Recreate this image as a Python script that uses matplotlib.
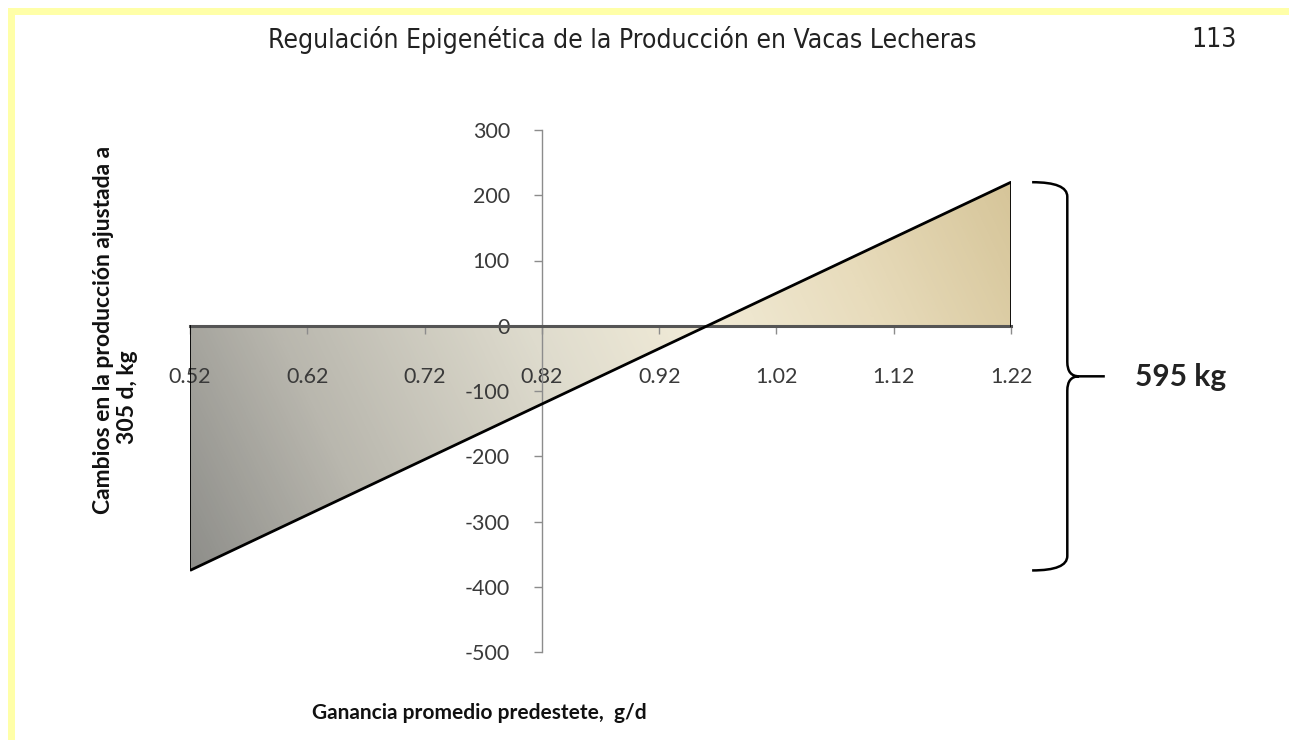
import numpy as np
import matplotlib
matplotlib.use('Agg')
import matplotlib.pyplot as plt
from matplotlib.patches import Polygon, Rectangle, PathPatch
from matplotlib.path import Path
from matplotlib.colors import LinearSegmentedColormap

plt.rcParams['axes.unicode_minus'] = False

# datos
x_ini, x_fin = 0.52, 1.22
y_ini, y_fin = -375, 220
x_ticks = [0.52, 0.62, 0.72, 0.82, 0.92, 1.02, 1.12, 1.22]
y_ticks = [-500, -400, -300, -200, -100, 0, 100, 200, 300]
diferencia = '595 kg'
titulo = 'Regulación Epigenética de la Producción en Vacas Lecheras'
pagina = '113'
ylab1 = 'Cambios en la producción ajustada a'
ylab2 = '305 d, kg'
xlab = 'Ganancia promedio predestete,  g/d'

W, H = 1289, 740
fig = plt.figure(figsize=(W / 100, H / 100), dpi=100)
fig.patch.set_facecolor('white')

# borde amarillo de la pagina
fig.patches.append(Rectangle((8 / W, 1 - 15 / H), 1, 7 / H, transform=fig.transFigure,
                             color='#ffffa8', lw=0))
fig.patches.append(Rectangle((8 / W, 0), 7 / W, 1 - 8 / H, transform=fig.transFigure,
                             color='#ffffa8', lw=0))

ax = fig.add_axes([190 / W, 1 - 652 / H, 821 / W, 522 / H])
ax.set_xlim(0.52, 1.22)
ax.set_ylim(-500, 300)
ax.patch.set_alpha(0)

# relleno con degradado
nx, ny = 821, 388
gx, gy = np.meshgrid(np.linspace(0, 1, nx), np.linspace(0, 1, ny))
dx, dy = 821.0, 388.0
t = (gx * dx * dx + gy * dy * dy) / (dx * dx + dy * dy)
cmap = LinearSegmentedColormap.from_list('grad', [
    (0.0, '#8e8e8a'), (0.2, '#b9b7ae'), (0.45, '#dedbcd'),
    (0.62, '#f1ebd7'), (0.8, '#e8dcbc'), (1.0, '#d6c599')])
img = ax.imshow(t, cmap=cmap, origin='lower', aspect='auto',
                extent=[x_ini, x_fin, y_ini, y_fin], zorder=0, interpolation='bilinear')
poly = Polygon([(x_ini, 0), (x_ini, y_ini), (x_fin, y_fin), (x_fin, 0)],
               closed=True, transform=ax.transData, fc='none', ec='none')
ax.add_patch(poly)
img.set_clip_path(poly)

ax.plot([x_ini, x_fin], [y_ini, y_fin], color='black', lw=2.0, zorder=4, solid_capstyle='butt')
ax.plot([x_ini, x_ini], [0, y_ini], color='black', lw=1.3, zorder=4)
ax.plot([x_fin, x_fin], [0, y_fin], color='black', lw=1.3, zorder=4)

# ejes
for s in ['top', 'right']:
    ax.spines[s].set_visible(False)
ax.spines['left'].set_position(('data', 0.82))
ax.spines['left'].set_color('#8c8c8c')
ax.spines['left'].set_linewidth(1.0)
ax.spines['left'].set_zorder(3)
ax.spines['bottom'].set_position(('data', 0))
ax.spines['bottom'].set_color('#555555')
ax.spines['bottom'].set_linewidth(2.2)
ax.spines['bottom'].set_zorder(3)

ax.set_xticks(x_ticks)
ax.set_xticklabels(['%.2f' % v for v in x_ticks])
ax.set_yticks(y_ticks)
ax.tick_params(axis='x', direction='out', length=6, width=1, color='#8c8c8c',
               pad=24, labelsize=15.5, labelcolor='#3a3a3a')
ax.tick_params(axis='y', direction='out', length=6, width=1, color='#8c8c8c',
               pad=17, labelsize=15.5, labelcolor='#3a3a3a')
for lab in ax.get_xticklabels() + ax.get_yticklabels():
    lab.set_family('Lato')

# llave
xl, xm, xt = 1.238, 1.268, 1.300
ym = (y_ini + y_fin) / 2
r = 22
verts = [(xl, y_fin), (xm, y_fin), (xm, y_fin - r),
         (xm, ym + r), (xm, ym), (xm + 0.010, ym),
         (xt, ym),
         (xm + 0.010, ym), (xm, ym), (xm, ym - r),
         (xm, y_ini + r), (xm, y_ini), (xl, y_ini)]
codes = [Path.MOVETO, Path.CURVE3, Path.CURVE3,
         Path.LINETO, Path.CURVE3, Path.CURVE3,
         Path.LINETO,
         Path.MOVETO, Path.CURVE3, Path.CURVE3,
         Path.LINETO, Path.CURVE3, Path.CURVE3]
ax.add_patch(PathPatch(Path(verts, codes), fc='none', ec='black', lw=1.8,
                       clip_on=False, zorder=5))

# textos
fig.text(622 / W, 1 - 40 / H, titulo, ha='center', va='center', fontsize=19,
         family='DejaVu Sans', fontstretch='condensed', color='#222222')
fig.text(1214 / W, 1 - 40 / H, pagina, ha='center', va='center', fontsize=19,
         family='DejaVu Sans', fontstretch='condensed', color='#222222')
fig.text(1135 / W, 1 - 377 / H, diferencia, ha='left', va='center', fontsize=21.5,
         family='Lato', weight='bold', color='#222222')
fig.text(104 / W, 1 - 330 / H, ylab1, ha='center', va='center', rotation=90,
         fontsize=16.5, family='Lato', weight='bold', color='#111111')
fig.text(127 / W, 1 - 397 / H, ylab2, ha='center', va='center', rotation=90,
         fontsize=16.5, family='Lato', weight='bold', color='#111111')
fig.text(479 / W, 1 - 713 / H, xlab, ha='center', va='center',
         fontsize=15, family='Lato', weight='bold', color='#111111')

fig.savefig('out.png', dpi=100)
